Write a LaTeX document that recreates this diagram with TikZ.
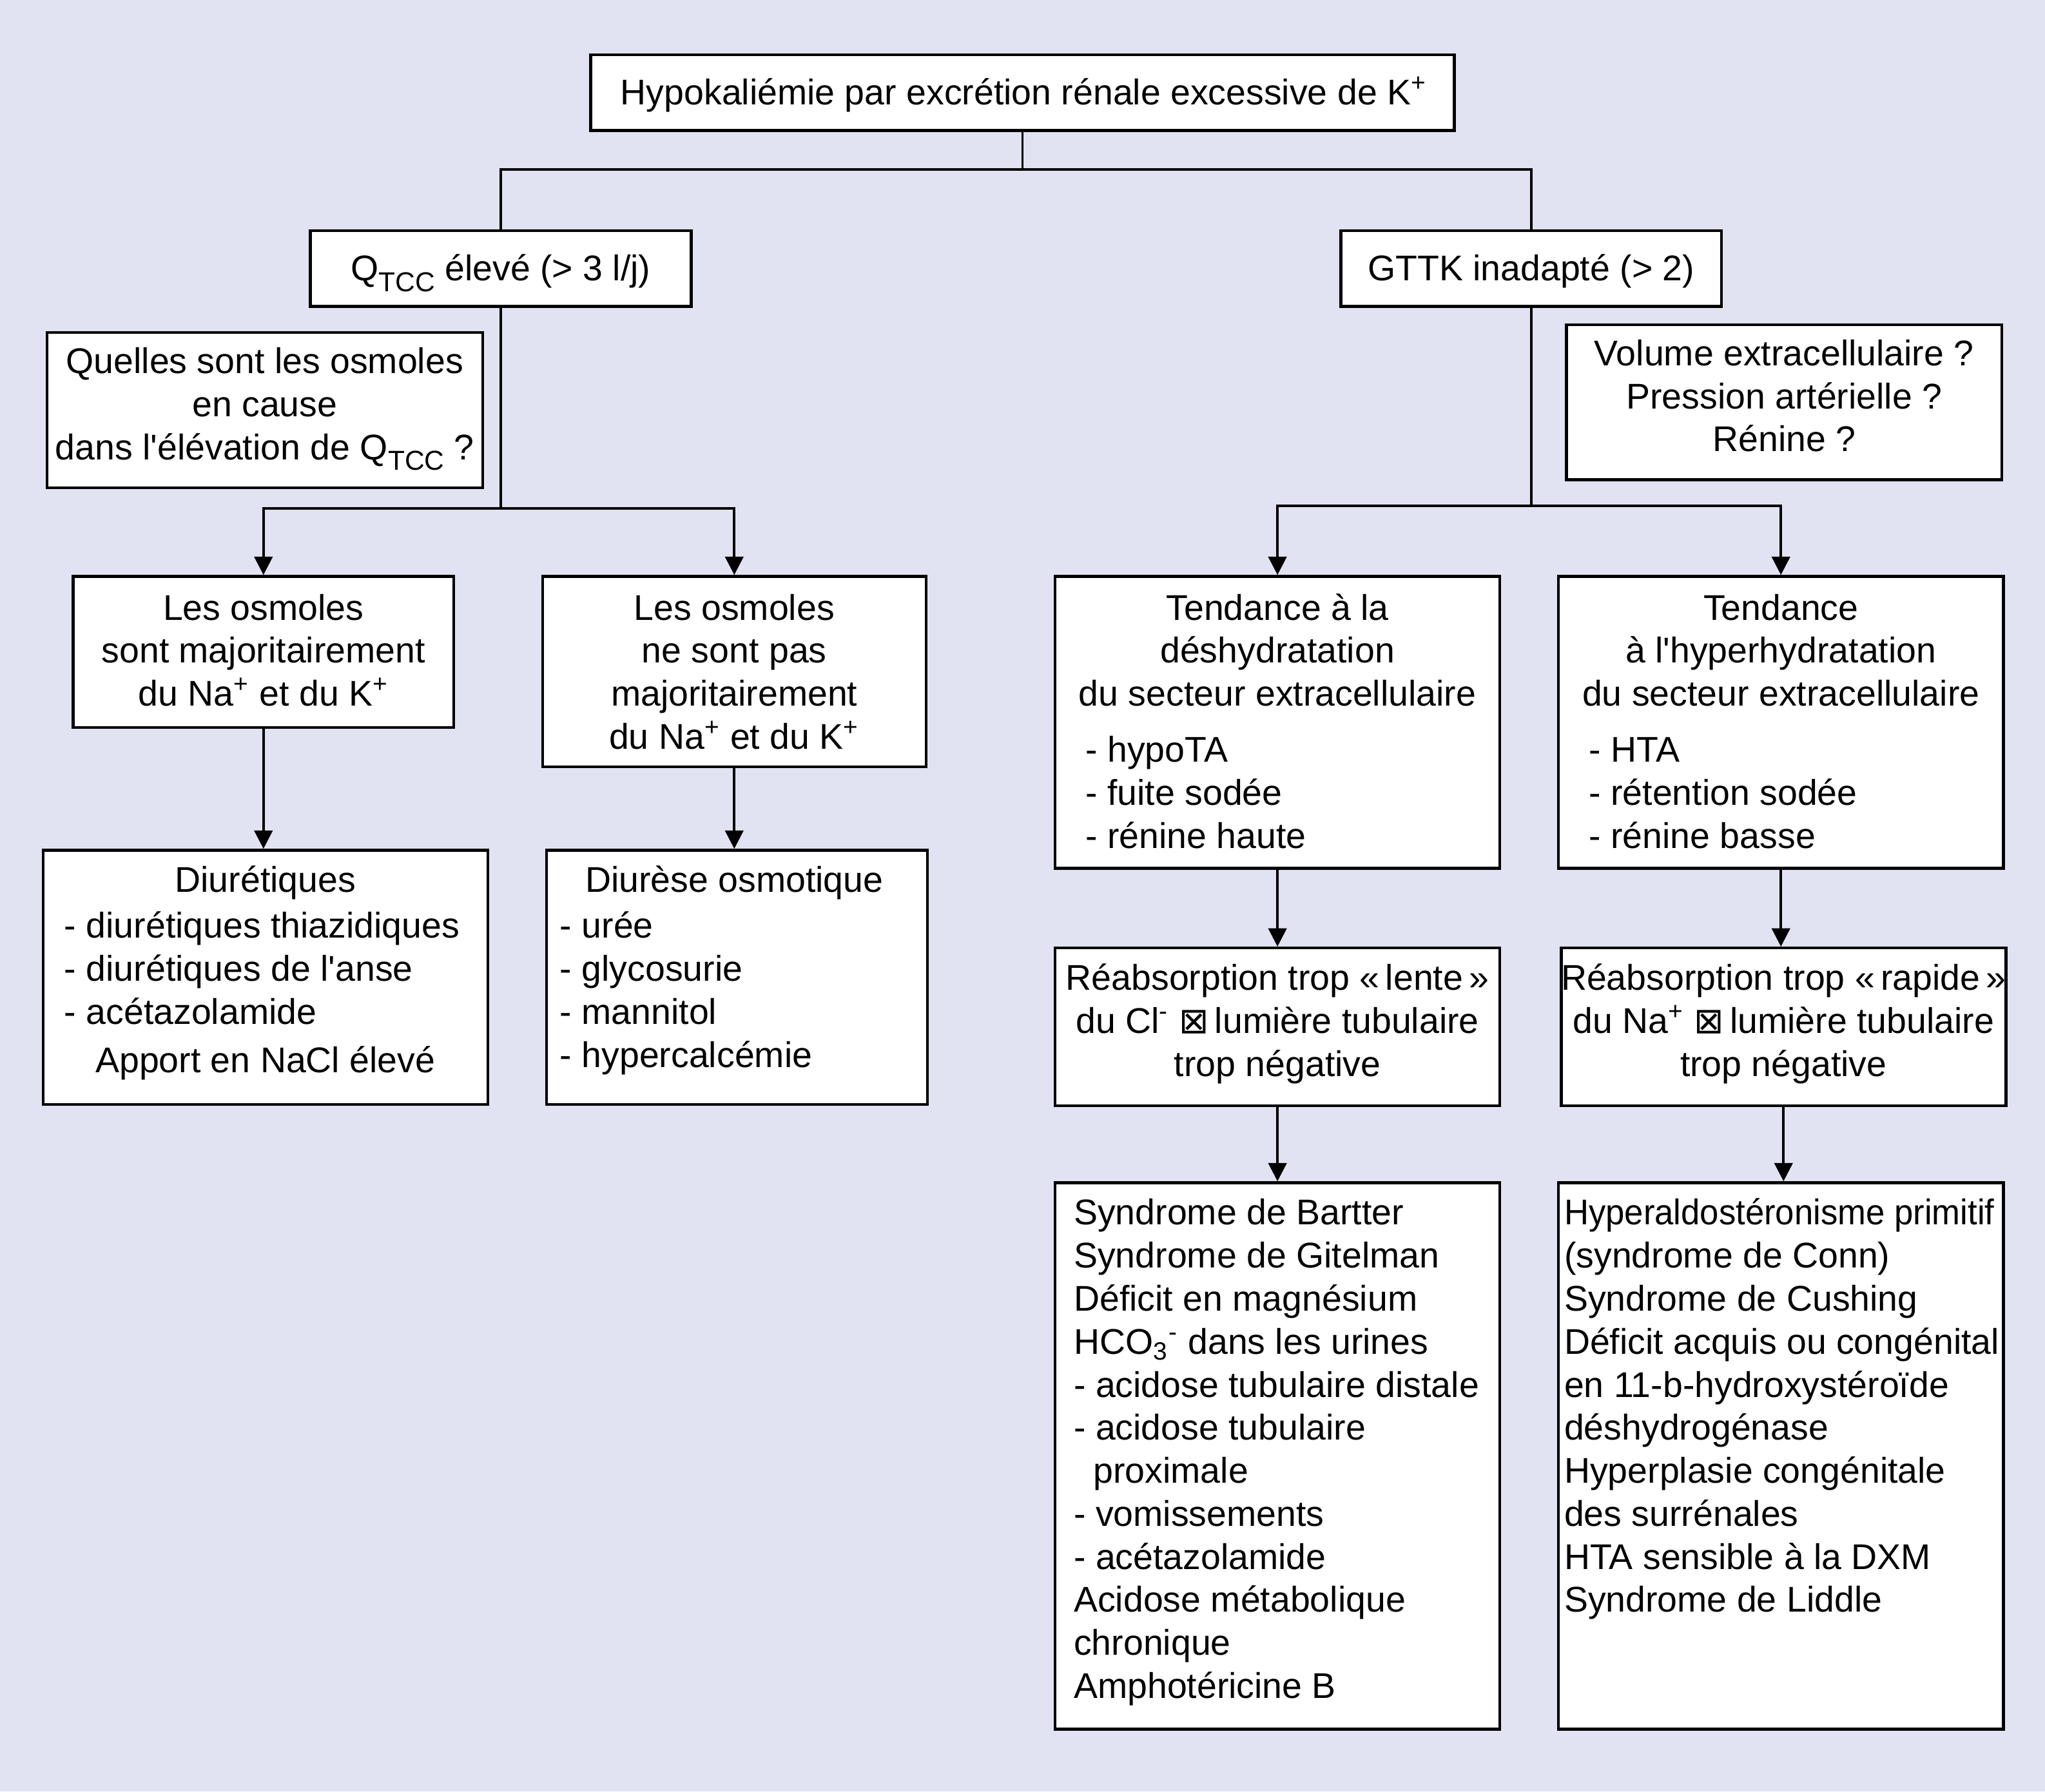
\documentclass[tikz,border=0pt]{standalone}
\usepackage{fontspec}
\setmainfont{Liberation Sans}
\newfontfamily\djv{DejaVu Sans}
\usetikzlibrary{fit,arrows.meta}
\definecolor{bgc}{RGB}{225,227,242}
\newcommand\sbs[1]{\raisebox{-0.3em}{\fontsize{10.5}{12}\selectfont #1}}
\newcommand\spp[1]{\textsuperscript{#1}}
\newcommand\xbox{{\djv ⊠}}
\newcommand\ap{\textquotesingle}
\begin{document}
\begin{tikzpicture}[x=0.5pt,y=-0.5pt,
  boxst/.style={draw=black, line width=1.1pt, fill=white, inner sep=0pt},
  txt/.style={inner sep=0pt, font=\fontsize{13.7}{16.5}\selectfont},
  ln/.style={line width=0.9pt},
  arr/.style={line width=0.9pt, -{Triangle[width=7pt,length=7pt]}}]

\fill[bgc] (0,0) rectangle (1568,1374);
\useasboundingbox (0,0) rectangle (1568,1374);

% boxes
\node[boxst, fit={(453,42) (1115,100)}] (top) {};
\node[boxst, fit={(238,177) (530,235)}] (q) {};
\node[boxst, fit={(1028,177) (1320,235)}] (g) {};
\node[boxst, fit={(36,255) (370,374)}] (qq) {};
\node[boxst, fit={(1201,249) (1535,368)}] (vq) {};
\node[boxst, fit={(56,442) (348,558)}] (b6) {};
\node[boxst, fit={(416,442) (710,588)}] (b7) {};
\node[boxst, fit={(809,442) (1150,666)}] (b8) {};
\node[boxst, fit={(1195,442) (1536,666)}] (b9) {};
\node[boxst, fit={(33,652) (374,847)}] (b10) {};
\node[boxst, fit={(419,652) (711,847)}] (b11) {};
\node[boxst, fit={(809,727) (1150,848)}] (b12) {};
\node[boxst, fit={(1197,727) (1538,848)}] (b13) {};
\node[boxst, fit={(809,907) (1150,1326)}] (b14) {};
\node[boxst, fit={(1195,907) (1536,1326)}] (b15) {};

% texts
\node[txt, anchor=north] (ttop) at (785,56.9) {\strut Hypokaliémie par excrétion rénale excessive de K\spp{+}};
\node[txt, anchor=north] (tq) at (384,191.9) {\strut Q\sbs{TCC} élevé (> 3 l/j)};
\node[txt, anchor=north] (tg) at (1174,191.9) {\strut GTTK inadapté (> 2)};
\node[txt, anchor=north, align=center] (tqq) at (203,262.9) {\strut Quelles sont les osmoles\\en cause\\dans l\ap élévation de Q\sbs{TCC} ?};
\node[txt, anchor=north, align=center] (tvq) at (1368,256.9) {\strut Volume extracellulaire ?\\Pression artérielle ?\\Rénine ?};
\node[txt, anchor=north, align=center] (t6) at (202,451.9) {\strut Les osmoles\\sont majoritairement\\du Na\spp{+} et du K\spp{+}};
\node[txt, anchor=north, align=center] (t7) at (563,451.9) {\strut Les osmoles\\ne sont pas\\majoritairement\\du Na\spp{+} et du K\spp{+}};
\node[txt, anchor=north, align=center] (t8) at (979.5,451.9) {\strut Tendance à la\\déshydratation\\du secteur extracellulaire};
\node[txt, anchor=north west, align=left] (t8l) at (832,560.9) {\strut - hypoTA\\- fuite sodée\\- rénine haute};
\node[txt, anchor=north, align=center] (t9) at (1365.5,451.9) {\strut Tendance\\à l\ap hyperhydratation\\du secteur extracellulaire};
\node[txt, anchor=north west, align=left] (t9l) at (1218,560.9) {\strut - HTA\\- rétention sodée\\- rénine basse};
\node[txt, anchor=north] (t10) at (203.5,660.9) {\strut Diurétiques};
\node[txt, anchor=north west, align=left] (t10l) at (49,695.9) {\strut - diurétiques thiazidiques\\- diurétiques de l\ap anse\\- acétazolamide};
\node[txt, anchor=north] (t10b) at (203.5,798.9) {\strut Apport en NaCl élevé};
\node[txt, anchor=north] (t11) at (563,660.9) {\strut Diurèse osmotique};
\node[txt, anchor=north west, align=left] (t11l) at (429,695.9) {\strut - urée\\- glycosurie\\- mannitol\\- hypercalcémie};
\node[txt, anchor=north, align=center] (t12) at (979.5,735.9) {\strut Réabsorption trop «\,lente\,»\\du Cl\spp{-} \xbox\,lumière tubulaire\\trop négative};
\node[txt, anchor=north, align=center] (t13) at (1367.5,735.9) {\strut Réabsorption trop «\,rapide\,»\\du Na\spp{+} \xbox\,lumière tubulaire\\trop négative};
\node[txt, anchor=north west, align=left] (t14) at (823,915.9) {\strut Syndrome de Bartter\\Syndrome de Gitelman\\Déficit en magnésium\\HCO\textsubscript{3}\spp{-} dans les urines\\- acidose tubulaire distale\\- acidose tubulaire\\\hspace*{7.5pt}proximale\\- vomissements\\- acétazolamide\\Acidose métabolique\\chronique\\Amphotéricine B};
\node[txt, anchor=north west, align=left] (t15) at (1199,915.9) {\strut \scalebox{0.95}[1]{Hyperaldostéronisme primitif}\\(syndrome de Conn)\\Syndrome de Cushing\\Déficit acquis ou congénital\\en 11-b-hydroxystéroïde\\déshydrogénase\\Hyperplasie congénitale\\des surrénales\\HTA sensible à la DXM\\Syndrome de Liddle};

% connectors
\coordinate (j1) at (top.south |- 0,130);
\draw[ln] (top.south) -- (j1);
\draw[ln] (q.north) |- (j1) -| (g.north);

\coordinate (j2) at (384,390);
\draw[ln] (q.south) -- (j2);
\draw[arr] (j2) -| (b6.north);
\draw[arr] (j2) -| (b7.north);

\coordinate (j3) at (1174,388);
\draw[ln] (g.south) -- (j3);
\draw[arr] (j3) -| (b8.north);
\draw[arr] (j3) -| (b9.north);

\draw[arr] (b6.south) -- (b6.south |- b10.north);
\draw[arr] (b7.south) -- (b7.south |- b11.north);
\draw[arr] (b8.south) -- (b12.north);
\draw[arr] (b9.south) -- (b9.south |- b13.north);
\draw[arr] (b12.south) -- (b14.north);
\draw[arr] (b13.south) -- (b13.south |- b15.north);
\end{tikzpicture}
\end{document}
